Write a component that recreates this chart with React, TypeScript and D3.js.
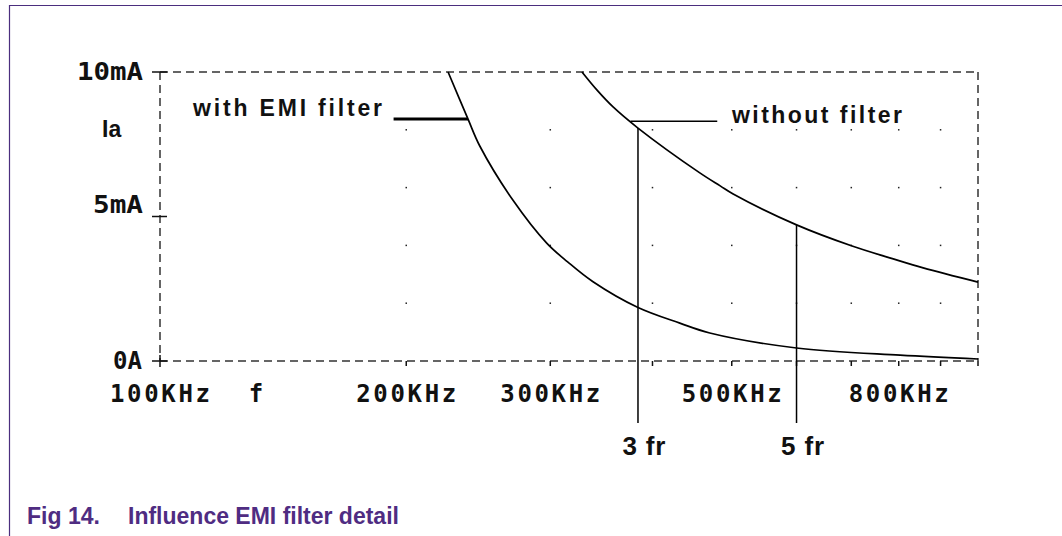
import React, { useEffect, useRef } from 'react';
import * as d3 from 'd3';

// frequencies in kHz, currents in mA
const freqWithFilter = [225, 238, 246, 270, 297, 315, 338, 384, 432, 470, 600, 803, 1000];
const currentWithFilter = [10, 8.37, 7.44, 5.57, 4.08, 3.43, 2.75, 1.85, 1.31, 0.97, 0.45, 0.2, 0.07];
const freqWithoutFilter = [328, 342, 358, 384, 457, 484, 502, 600, 703, 780, 857, 1000];
const currentWithoutFilter = [10, 9.38, 8.79, 8.06, 6.51, 6.06, 5.78, 4.71, 3.97, 3.57, 3.22, 2.73];

const xTickValues = [100, 200, 300, 500, 800];
const xTickLabels = ['100KHz', '200KHz', '300KHz', '500KHz', '800KHz'];
const xMinorTicks = [200, 300, 400, 500, 600, 700, 800, 900, 1000];
const yTickValues = [10, 5, 0];
const yTickLabels = ['10mA', '5mA', '0A'];
const gridCurrents = [2, 4, 6, 8];
const markerFreqs = [384, 600];
const markerLabels = ['3 fr', '5 fr'];

const App: React.FC = () => {
  const svgRef = useRef<SVGSVGElement | null>(null);

  useEffect(() => {
    if (!svgRef.current) return;
    const svg = d3.select(svgRef.current);
    svg.selectAll('*').remove();

    const x = d3.scaleLog().domain([100, 1000]).range([160, 978]);
    const y = d3.scaleLinear().domain([0, 10]).range([361, 72]);
    const axisColor = '#333';
    const monoFont = '"DejaVu Sans Mono", monospace';
    const sansFont = '"Liberation Sans", Arial, sans-serif';

    // page frame
    svg.append('line').attr('x1', 9).attr('x2', 1062).attr('y1', 5.5).attr('y2', 5.5)
      .attr('stroke', '#4b2e7e').attr('stroke-width', 1.2);
    svg.append('line').attr('x1', 9.5).attr('x2', 9.5).attr('y1', 5).attr('y2', 536)
      .attr('stroke', '#4b2e7e').attr('stroke-width', 1.2);

    // dashed plot box
    const [x0, x1] = x.range();
    const [yb, yt] = y.range();
    const box = [
      [x0, yt, x1, yt], [x1, yt, x1, yb], [x0, yb, x1, yb], [x0, yt, x0, yb],
    ];
    svg.selectAll('.box').data(box).enter().append('line')
      .attr('x1', d => d[0]).attr('y1', d => d[1]).attr('x2', d => d[2]).attr('y2', d => d[3])
      .attr('stroke', axisColor).attr('stroke-width', 1.5).attr('stroke-dasharray', '8,5');

    // grid dots
    const dots = xMinorTicks.filter(f => f < 1000).flatMap(f => gridCurrents.map(c => [f, c]));
    svg.selectAll('.dot').data(dots).enter().append('rect')
      .attr('x', d => x(d[0]) - 0.75).attr('y', d => y(d[1]) - 0.75)
      .attr('width', 1.5).attr('height', 1.5).attr('fill', '#222');

    // x ticks
    svg.selectAll('.xtick').data(xMinorTicks).enter().append('line')
      .attr('x1', d => x(d)).attr('x2', d => x(d)).attr('y1', yb).attr('y2', yb + 5)
      .attr('stroke', '#111').attr('stroke-width', 1.5);
    svg.append('line').attr('x1', x0).attr('x2', x0).attr('y1', yb - 6).attr('y2', yb + 6)
      .attr('stroke', '#111').attr('stroke-width', 1.5);
    svg.selectAll('.xlab').data(xTickValues).enter().append('text')
      .attr('x', d => x(d)).attr('y', 402)
      .attr('text-anchor', 'middle').attr('font-family', monoFont).attr('font-weight', 'bold')
      .attr('font-size', 24).attr('textLength', 100).attr('lengthAdjust', 'spacing')
      .attr('fill', '#111')
      .text((d, i) => xTickLabels[i]);
    svg.append('text').attr('x', 256).attr('y', 402).attr('text-anchor', 'middle')
      .attr('font-family', monoFont).attr('font-weight', 'bold').attr('font-size', 24)
      .attr('fill', '#111').text('f');

    // y ticks
    svg.selectAll('.ytick').data(yTickValues).enter().append('line')
      .attr('x1', x0 - 8).attr('x2', x0 + 7).attr('y1', d => y(d)).attr('y2', d => y(d))
      .attr('stroke', '#111').attr('stroke-width', 1.5);
    const yLabelWidth: Record<string, number> = { '10mA': 66, '5mA': 50, '0A': 29 };
    svg.selectAll('.ylab').data(yTickValues).enter().append('text')
      .attr('x', (d, i) => (i === 2 ? 142 : 143))
      .attr('y', d => (d === 5 ? y(d) - 4 : y(d) + 8))
      .attr('text-anchor', 'end').attr('font-family', monoFont).attr('font-weight', 'bold')
      .attr('font-size', 24).attr('fill', '#111')
      .attr('textLength', (d, i) => yLabelWidth[yTickLabels[i]]).attr('lengthAdjust', 'spacingAndGlyphs')
      .text((d, i) => yTickLabels[i]);
    svg.append('text').attr('x', 102).attr('y', 137)
      .attr('font-family', sansFont).attr('font-weight', 'bold').attr('font-size', 23)
      .attr('fill', '#111').text('Ia');

    // curves
    const line = d3.line<[number, number]>()
      .x(d => x(d[0])).y(d => y(d[1])).curve(d3.curveCatmullRom.alpha(0.5));
    const withData = freqWithFilter.map((f, i) => [f, currentWithFilter[i]] as [number, number]);
    const withoutData = freqWithoutFilter.map((f, i) => [f, currentWithoutFilter[i]] as [number, number]);
    [withData, withoutData].forEach(dat => {
      svg.append('path').datum(dat).attr('d', line).attr('fill', 'none')
        .attr('stroke', '#000').attr('stroke-width', 1.7);
    });

    // marker lines 3fr / 5fr
    markerFreqs.forEach((f, i) => {
      const yTop = y(currentWithoutFilter[freqWithoutFilter.indexOf(f)]);
      svg.append('line').attr('x1', x(f)).attr('x2', x(f)).attr('y1', yTop).attr('y2', 423)
        .attr('stroke', '#000').attr('stroke-width', 1.5);
      svg.append('text').attr('x', x(f) + 6).attr('y', 455).attr('text-anchor', 'middle')
        .attr('font-family', sansFont).attr('font-weight', 'bold').attr('font-size', 26)
        .attr('textLength', 43).attr('lengthAdjust', 'spacing')
        .attr('fill', '#111').text(markerLabels[i]);
    });

    // legend leaders
    svg.append('line').attr('x1', x(193)).attr('x2', x(238))
      .attr('y1', y(8.37)).attr('y2', y(8.37)).attr('stroke', '#000').attr('stroke-width', 3);
    svg.append('line').attr('x1', x(376)).attr('x2', x(480))
      .attr('y1', y(8.3)).attr('y2', y(8.3)).attr('stroke', '#000').attr('stroke-width', 1.5);
    svg.append('text').attr('x', 193).attr('y', 116)
      .attr('font-family', sansFont).attr('font-weight', 'bold').attr('font-size', 23)
      .attr('textLength', 189).attr('lengthAdjust', 'spacing').attr('fill', '#111')
      .text('with EMI filter');
    svg.append('text').attr('x', 732).attr('y', 123)
      .attr('font-family', sansFont).attr('font-weight', 'bold').attr('font-size', 23)
      .attr('textLength', 170).attr('lengthAdjust', 'spacing').attr('fill', '#111')
      .text('without filter');

    // caption
    svg.append('text').attr('x', 27).attr('y', 524)
      .attr('font-family', sansFont).attr('font-weight', 'bold').attr('font-size', 23)
      .attr('fill', '#4f2c82').text('Fig 14.');
    svg.append('text').attr('x', 128).attr('y', 524)
      .attr('font-family', sansFont).attr('font-weight', 'bold').attr('font-size', 23)
      .attr('fill', '#4f2c82').text('Influence EMI filter detail');
  }, []);

  return (
    <svg ref={svgRef} width={1062} height={536}
      style={{ position: 'absolute', left: 0, top: 0, background: '#fff' }} />
  );
};

export default App;
